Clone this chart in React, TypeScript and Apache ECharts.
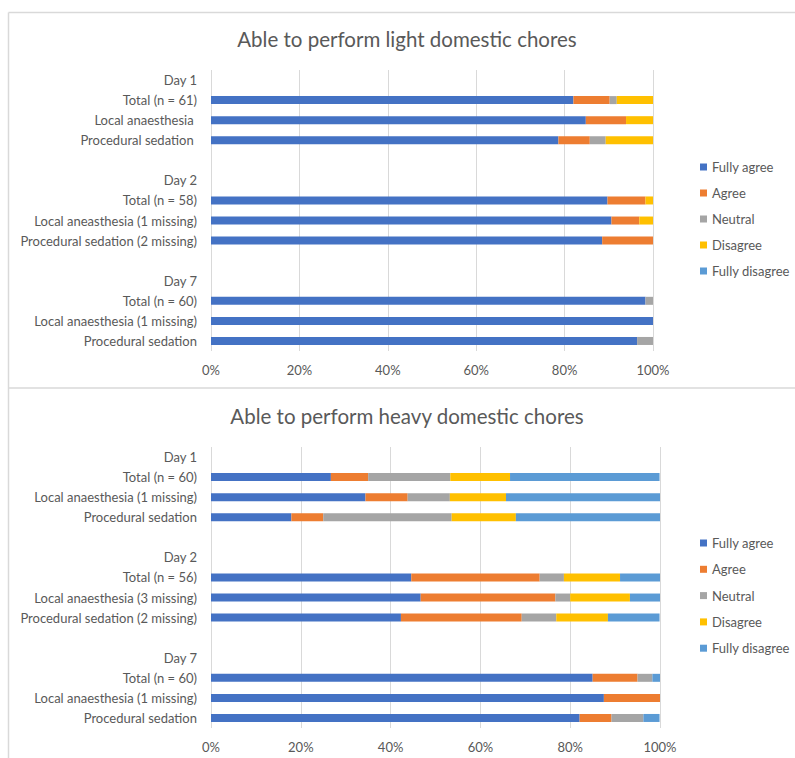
import React, { useEffect, useRef } from "react";
import * as echarts from "echarts";

// Row labels (blank strings are spacer rows between the days)
const lightCategories = [
  "Day 1", "Total (n = 61)", "Local anaesthesia\u00a0", "Procedural sedation\u00a0", "",
  "Day 2", "Total (n = 58)", "Local aneasthesia (1 missing)", "Procedural sedation (2 missing)", "",
  "Day 7", "Total (n = 60)", "Local anaesthesia (1 missing)", "Procedural sedation",
];
const heavyCategories = [
  "Day 1", "Total (n = 60)", "Local anaesthesia (1 missing)", "Procedural sedation", "",
  "Day 2", "Total (n = 56)", "Local anaesthesia (3 missing)", "Procedural sedation (2 missing)", "",
  "Day 7", "Total (n = 60)", "Local anaesthesia (1 missing)", "Procedural sedation",
];

const responseLevels = ["Fully agree", "Agree", "Neutral", "Disagree", "Fully disagree"];
const levelColors = ["#4472C4", "#ED7D31", "#A5A5A5", "#FFC000", "#5B9BD5"];

// Light domestic chores, share of respondents (%)
const lightFullyAgree = [null, 82.0, 84.8, 78.6, null, null, 89.7, 90.6, 88.5, null, null, 98.3, 100, 96.4];
const lightAgree = [null, 8.2, 9.1, 7.1, null, null, 8.6, 6.3, 11.5, null, null, 0, 0, 0];
const lightNeutral = [null, 1.6, 0, 3.6, null, null, 0, 0, 0, null, null, 1.7, 0, 3.6];
const lightDisagree = [null, 8.2, 6.1, 10.7, null, null, 1.7, 3.1, 0, null, null, 0, 0, 0];
const lightFullyDisagree = [null, 0, 0, 0, null, null, 0, 0, 0, null, null, 0, 0, 0];

// Heavy domestic chores, share of respondents (%)
const heavyFullyAgree = [null, 26.7, 34.4, 17.9, null, null, 44.6, 46.7, 42.3, null, null, 85.0, 87.5, 82.1];
const heavyAgree = [null, 8.3, 9.4, 7.1, null, null, 28.6, 30.0, 26.9, null, null, 10.0, 12.5, 7.1];
const heavyNeutral = [null, 18.3, 9.4, 28.6, null, null, 5.4, 3.3, 7.7, null, null, 3.3, 0, 7.1];
const heavyDisagree = [null, 13.3, 12.5, 14.3, null, null, 12.5, 13.3, 11.5, null, null, 0, 0, 0];
const heavyFullyDisagree = [null, 33.3, 34.4, 32.1, null, null, 8.9, 6.7, 11.5, null, null, 1.7, 0, 3.6];

const lightSeries = [lightFullyAgree, lightAgree, lightNeutral, lightDisagree, lightFullyDisagree];
const heavySeries = [heavyFullyAgree, heavyAgree, heavyNeutral, heavyDisagree, heavyFullyDisagree];

const percentTicks = [0, 20, 40, 60, 80, 100];

const FONT = "Lato, 'Open Sans', sans-serif";
const TEXT_COLOR = "#595959";
const RULE_COLOR = "#D9D9D9";

export default function App() {
  const ref = useRef<HTMLDivElement>(null);

  useEffect(() => {
    if (!ref.current) return;
    const chart = echarts.init(ref.current, null, { renderer: "svg" });

    const xAxisFor = (gridIndex: number) => ({
      type: "value",
      gridIndex,
      min: percentTicks[0],
      max: percentTicks[percentTicks.length - 1],
      interval: percentTicks[1] - percentTicks[0],
      axisLine: { show: false },
      axisTick: { show: false },
      splitLine: { show: true, lineStyle: { color: RULE_COLOR, width: 1 } },
      axisLabel: {
        formatter: "{value}%",
        color: TEXT_COLOR,
        fontFamily: FONT,
        fontSize: 13,
        margin: 12,
      },
    });

    const yAxisFor = (gridIndex: number, data: string[]) => ({
      type: "category",
      gridIndex,
      inverse: true,
      data,
      axisLine: { show: false },
      axisTick: { show: false },
      splitLine: { show: false },
      axisLabel: {
        color: TEXT_COLOR,
        fontFamily: FONT,
        fontSize: 13,
        margin: 14,
        interval: 0,
      },
    });

    const barSeries = (values: (number | null)[][], axisIndex: number, stack: string) =>
      values.map((data, i) => ({
        name: responseLevels[i],
        type: "bar",
        stack,
        xAxisIndex: axisIndex,
        yAxisIndex: axisIndex,
        barWidth: 8,
        data,
        itemStyle: { color: levelColors[i] },
      }));

    const legendFor = (top: number, gap: number) => ({
      orient: "vertical",
      left: 695,
      top,
      icon: "rect",
      itemWidth: 7,
      itemHeight: 7,
      itemGap: gap,
      selectedMode: false,
      data: responseLevels,
      textStyle: { color: TEXT_COLOR, fontFamily: FONT, fontSize: 13, lineHeight: 14 },
    });

    const rule = (x1: number, y1: number, x2: number, y2: number) => ({
      type: "line",
      shape: { x1, y1, x2, y2 },
      style: { stroke: RULE_COLOR, lineWidth: 1.5 },
      silent: true,
    });

    const heading = (text: string, y: number) => ({
      type: "text",
      x: 407,
      y,
      style: {
        text,
        align: "center",
        verticalAlign: "middle",
        fill: TEXT_COLOR,
        font: `20.5px ${FONT}`,
      },
    });

    chart.setOption({
      animation: false,
      backgroundColor: "#FFFFFF",
      grid: [
        { left: 211, top: 70, width: 442, height: 281 },
        { left: 211, top: 447, width: 449, height: 281 },
      ],
      xAxis: [xAxisFor(0), xAxisFor(1)],
      yAxis: [yAxisFor(0, lightCategories), yAxisFor(1, heavyCategories)],
      legend: [legendFor(155, 12), legendFor(531, 12.3)],
      series: [...barSeries(lightSeries, 0, "light"), ...barSeries(heavySeries, 1, "heavy")],
      graphic: [
        rule(8.5, 12.5, 795, 12.5),
        rule(8.5, 12.5, 8.5, 758),
        rule(8.5, 388, 795, 388),
        heading("Able to perform light domestic chores", 39),
        heading("Able to perform heavy domestic chores", 416),
      ],
    });

    return () => chart.dispose();
  }, []);

  return (
    <div
      ref={ref}
      style={{ position: "absolute", left: 0, top: 0, width: 795, height: 758 }}
    />
  );
}
